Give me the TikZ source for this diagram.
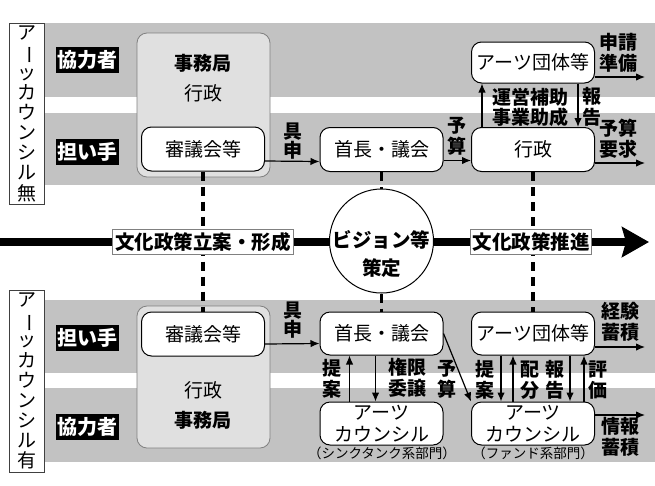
\documentclass[tikz,border=0pt]{standalone}
\usepackage{fontspec}
\usepackage{graphicx}
\setmainfont{Noto Sans CJK JP}
\usetikzlibrary{arrows.meta}
\definecolor{bandgray}{gray}{0.76}
\definecolor{pale}{gray}{0.88}
\newcommand\chouon{\rotatebox[origin=c]{-90}{ー}}
\tikzset{
  role/.style={fill=black,text=white,font=\bfseries\fontsize{20}{21}\selectfont,inner sep=1pt,minimum width=63pt,minimum height=26pt},
  sidebox/.style={draw=black!75,line width=0.8pt,fill=white,align=center,font=\fontsize{19}{20.1}\selectfont,minimum width=35pt,inner sep=0pt},
  group/.style={draw=gray,line width=0.8pt,fill=pale,rounded corners=10pt},
  actor/.style={draw,line width=1pt,fill=white,rounded corners=10pt,minimum width=123pt,minimum height=44pt,align=center,font=\fontsize{19}{22}\selectfont,inner sep=0pt},
  lbl/.style={font=\bfseries\fontsize{19}{21}\selectfont,align=center,inner sep=0pt},
  flow/.style={-{Latex[length=9pt,width=7.5pt]},line width=1.2pt},
  link/.style={line width=3.5pt,dash pattern=on 9pt off 6pt},
  stage/.style={draw=gray,line width=0.8pt,fill=white,font=\bfseries\fontsize{19.5}{21}\selectfont,inner sep=2pt,minimum height=25pt},
  sub/.style={font=\fontsize{13.5}{15}\selectfont,inner sep=0pt}
}
\begin{document}
\begin{tikzpicture}[x=1pt,y=-1pt]
\useasboundingbox (0,0) rectangle (655,485);
\fill[bandgray] (45,23) rectangle (655,97);
\fill[bandgray] (45,113) rectangle (655,185);
\fill[bandgray] (45,300) rectangle (655,373);
\fill[bandgray] (45,388) rectangle (655,462);
\draw[group] (137,33) rectangle (270,177);
\draw[group] (137,306) rectangle (270,448);

\node[sidebox,minimum height=181pt] (without) at (26.5,113.5) {ア\\\chouon\\ッ\\カ\\ウ\\ン\\シ\\ル\\無};
\node[role] (help1) at (87,60) {協力者};
\node[role] (bearer1) at (87,152) {担い手};
\node[font=\bfseries\fontsize{19}{21}\selectfont] (office1) at (203,63) {事務局};
\node[font=\fontsize{19}{21}\selectfont] (admin1) at (203,93) {行政};
\node[actor] (council1) at (203,149) {審議会等};
\node[actor] (mayor1) at (381.5,149.5) {首長・議会};
\node[actor] (gov1) at (533,149.5) {行政};
\node[actor,minimum height=41pt] (arts1) at (533,62.5) {アーツ団体等};

\node[sidebox,minimum height=182pt] (with) at (26.5,381) {ア\\\chouon\\ッ\\カ\\ウ\\ン\\シ\\ル\\有};
\node[role] (bearer2) at (87,338) {担い手};
\node[role] (help2) at (87,427) {協力者};
\node[font=\fontsize{19}{21}\selectfont] (admin2) at (203,390) {行政};
\node[font=\bfseries\fontsize{19}{21}\selectfont] (office2) at (203,420) {事務局};
\node[actor] (council2) at (203,334) {審議会等};
\node[actor,minimum height=43pt] (mayor2) at (381.5,333.5) {首長・議会};
\node[actor,minimum height=43pt] (arts2) at (533,333.5) {アーツ団体等};
\node[actor,minimum height=43pt] (think) at (381.5,423.5) {アーツ\\カウンシル};
\node[actor,minimum height=43pt] (fund) at (533,423.5) {アーツ\\カウンシル};
\node[sub] (thinksub) at (382,453) {（シンクタンク系部門）};
\node[sub] (fundsub) at (533,453) {（ファンド系部門）};

\draw[link] (council1.south) -- (council2.north);
\draw[link] (gov1.south) -- (arts2.north);
\coordinate (start) at (0,242);
\coordinate (goal) at (649,242);
\draw[line width=8pt,-{Stealth[length=27pt,width=30pt,inset=4pt]}] (start) -- (goal);
\node[circle,draw,line width=1pt,fill=white,minimum size=104pt] (vision) at (381.5,241) {};
\node[font=\bfseries\fontsize{19.5}{28}\selectfont,align=center] (visiontext) at (381.5,254) {ビジョン等\\策定};
\draw[link] (mayor1.south) -- (vision.north);
\draw[link] (vision.south) -- (mayor2.north);
\node[stage,minimum width=181pt] (plan) at (203,242) {文化政策立案・形成};
\node[stage,minimum width=119pt] (promote) at (531,242) {文化政策推進};

\draw[flow] ([yshift=-12pt]council1.east) -- ([yshift=-12pt]mayor1.west);
\node[lbl,font=\bfseries\fontsize{19}{18.5}\selectfont] at (293,141) {具\\申};
\draw[flow] ([yshift=-11pt]mayor1.east) -- ([yshift=-11pt]gov1.west);
\node[lbl] at (457,136) {予\\算};
\draw[flow] ([xshift=-51pt]gov1.north) -- ([xshift=-51pt]arts1.south);
\node[lbl,font=\bfseries\fontsize{19}{20}\selectfont] at (530,107) {運営補助\\事業助成};
\draw[flow] ([xshift=45pt]arts1.south) -- ([xshift=45pt]gov1.north);
\node[lbl] at (592,107) {報\\告};
\coordinate (apply) at (645,77);
\draw[flow] (arts1.east |- apply) -- (apply);
\node[lbl] at (618,53) {申請\\準備};
\coordinate (request) at (645,163);
\draw[flow] (gov1.east |- request) -- (request);
\node[lbl] at (618,139) {予算\\要求};

\draw[flow] ([yshift=-10pt]council2.east) -- ([yshift=-10pt]mayor2.west);
\node[lbl,font=\bfseries\fontsize{19}{18.5}\selectfont] at (293,320) {具\\申};
\draw[flow] ([xshift=-32pt]think.north) -- ([xshift=-32pt]mayor2.south);
\node[lbl] at (332,379) {提\\案};
\draw[flow] ([xshift=-6pt]mayor2.south) -- ([xshift=-6pt]think.north);
\node[lbl] at (407,378) {権限\\委譲};
\draw[flow] (mayor2.east) -- (fund.north west);
\node[lbl] at (447,379) {予\\算};
\draw[flow] ([xshift=-32pt]arts2.south) -- ([xshift=-32pt]fund.north);
\node[lbl] at (485,380) {提\\案};
\draw[flow] ([xshift=-20pt]fund.north) -- ([xshift=-20pt]arts2.south);
\node[lbl] at (530,380) {配\\分};
\draw[flow] ([xshift=37pt]arts2.south) -- ([xshift=37pt]fund.north);
\node[lbl] at (555,380) {報\\告};
\draw[flow] ([xshift=51pt]fund.north) -- ([xshift=51pt]arts2.south);
\node[lbl] at (598,380) {評\\価};
\coordinate (exp) at (645,347);
\draw[flow] (arts2.east |- exp) -- (exp);
\node[lbl] at (620,322) {経験\\蓄積};
\coordinate (info) at (645,415);
\draw[flow] (fund.east |- info) -- (info);
\node[lbl] at (620,437) {情報\\蓄積};
\end{tikzpicture}
\end{document}
